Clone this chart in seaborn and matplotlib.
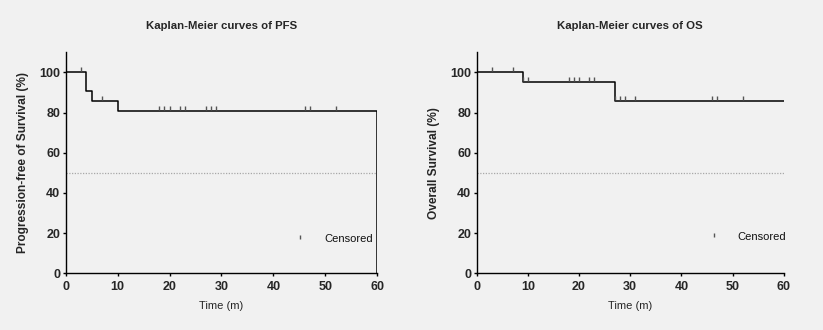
import matplotlib
matplotlib.use("Agg")
import matplotlib.pyplot as plt
from matplotlib import font_manager
from matplotlib.path import Path
from matplotlib.markers import MarkerStyle
import seaborn as sns
import pandas as pd

# ---- data -------------------------------------------------------------
# PFS step curve (time in months, survival in %)
pfs_times = [0, 4, 5, 10, 60, 60]
pfs_surv = [100, 90.5, 85.7, 80.7, 80.7, 0]
pfs_cens_times = [3, 7, 18, 19, 20, 22, 23, 27, 28, 29, 46, 47, 52]
pfs_cens_surv = [100, 85.7, 80.7, 80.7, 80.7, 80.7, 80.7, 80.7, 80.7, 80.7, 80.7, 80.7, 80.7]

# OS step curve
os_times = [0, 9, 27, 60]
os_surv = [100, 95.0, 85.6, 85.6]
os_cens_times = [3, 7, 9, 10, 18, 19, 20, 22, 23, 27, 28, 29, 31, 46, 47, 52]
os_cens_surv = [100, 100, 95.0, 95.0, 95.0, 95.0, 95.0, 95.0, 95.0,
                85.6, 85.6, 85.6, 85.6, 85.6, 85.6, 85.6]

x_ticks = [0, 10, 20, 30, 40, 50, 60]
y_ticks = [0, 20, 40, 60, 80, 100]
median_line = 50

titles = ["Kaplan-Meier curves of PFS", "Kaplan-Meier curves of OS"]
y_labels = ["Progression-free of Survival (%)", "Overall Survival (%)"]
x_label = "Time (m)"
legend_text = "Censored"

# ---- style ------------------------------------------------------------
sns.set_theme(style="white")
installed = {f.name for f in font_manager.fontManager.ttflist}
narrow = "Liberation Sans Narrow" if "Liberation Sans Narrow" in installed else "Liberation Sans"
plt.rcParams["font.family"] = ["Liberation Sans", "DejaVu Sans"]

bg = "#f1f1f1"
fig = plt.figure(figsize=(8.23, 3.30), dpi=100, facecolor=bg)

ax_pos = [[0.0798, 0.1718, 0.3786, 0.6700],
          [0.5792, 0.1718, 0.3731, 0.6700]]

# short vertical tick sitting just above the curve
tick_marker = MarkerStyle(Path([(0, 0.25), (0, 1.25)]))

curves = [(pfs_times, pfs_surv, pfs_cens_times, pfs_cens_surv),
          (os_times, os_surv, os_cens_times, os_cens_surv)]
legend_pos = [((45.1, 16.6), (49.8, 17.1)),
              ((46.4, 17.6), (51.0, 18.2))]

for i, (t, s, ct, cs) in enumerate(curves):
    ax = fig.add_axes(ax_pos[i])
    ax.set_facecolor(bg)

    df = pd.DataFrame({"t": t, "s": s})
    sns.lineplot(data=df, x="t", y="s", ax=ax, drawstyle="steps-post",
                 color="black", linewidth=1.1, estimator=None, sort=False)

    # 50% reference line
    ax.plot([x_ticks[0], x_ticks[-1]], [median_line, median_line],
            linestyle=(0, (1, 1.2)), color="#a8a8a8", linewidth=0.9)

    # censored observations
    ax.plot(ct, cs, linestyle="none", marker=tick_marker, markersize=7.7,
            markeredgecolor="#555555", markeredgewidth=1.0)

    # legend entry
    (mx, my), (tx, ty) = legend_pos[i]
    ax.plot([mx], [my], linestyle="none", marker=tick_marker, markersize=7.7,
            markeredgecolor="#555555", markeredgewidth=1.0)
    ax.text(tx, ty, legend_text, fontsize=8, va="center", ha="left", color="#111111")

    ax.set_xlim(0, 60)
    ax.set_ylim(0, 110)
    ax.set_xticks(x_ticks)
    ax.set_yticks(y_ticks)
    ax.set_xticklabels([str(v) for v in x_ticks], fontfamily=narrow,
                       fontweight="bold", fontsize=9)
    ax.set_yticklabels([str(v) for v in y_ticks], fontfamily=narrow,
                       fontweight="bold", fontsize=9)
    ax.tick_params(axis="both", direction="out", length=2.5, width=1.0,
                   color="black", bottom=True, left=True)
    ax.tick_params(axis="x", pad=3.0)
    ax.tick_params(axis="y", pad=1.5)

    sns.despine(ax=ax)
    for side in ("left", "bottom"):
        ax.spines[side].set_color("black")
        ax.spines[side].set_linewidth(1.0)

    ax.set_xlabel(x_label, fontsize=8, fontfamily=narrow, labelpad=6)
    ax.set_ylabel(y_labels[i], fontsize=8.6, fontweight="bold", labelpad=7)
    ax.set_title(titles[i], fontsize=8.2, fontweight="bold", pad=17)

fig.savefig("out.png", dpi=100, facecolor=bg)
